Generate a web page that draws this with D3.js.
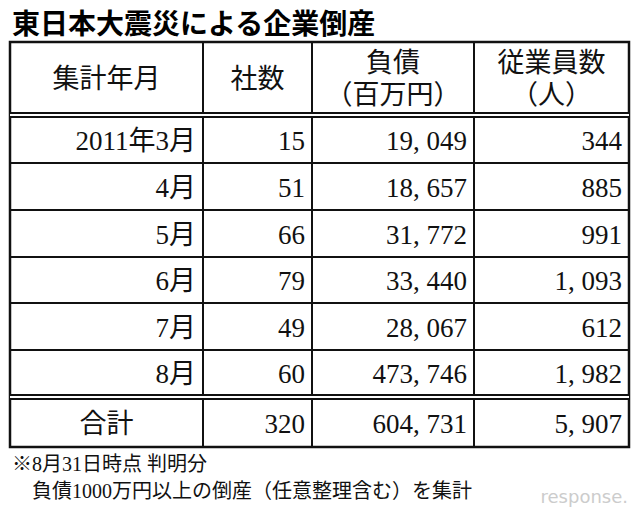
<!DOCTYPE html><html><head><meta charset="utf-8">
<script src="https://cdn.jsdelivr.net/npm/d3@7"></script>
<style>body{margin:0;background:#fff}</style></head><body>
<svg id="c" width="640" height="523"></svg>
<script>
const title="東日本大震災による企業倒産";
const headers=[["集計年月"],["社数"],["負債","（百万円）"],["従業員数","（人）"]];
const months=["2011年3月","4月","5月","6月","7月","8月"];
const companies=[15,51,66,79,49,60];
const debt=["19, 049","18, 657","31, 772","33, 440","28, 067","473, 746"];
const employees=["344","885","991","1, 093","612","1, 982"];
const total=["合計","320","604, 731","5, 907"];
const notes=["※8月31日時点 判明分","　負債1000万円以上の倒産（任意整理含む）を集計"];

const svg=d3.select("#c");
const F="'Liberation Serif','Noto Sans CJK JP',serif";
const colX=[10,203,312,474,629];
const rowY=[117,163,210,257,303,350,395];
svg.append("text").attr("x",12).attr("y",34).attr("font-family","'Noto Sans CJK JP'").attr("font-weight","bold").attr("font-size",28).text(title);
const g=svg.append("g").attr("font-family",F).attr("font-size",27).attr("fill","#111");
g.append("rect").attr("x",colX[0]).attr("y",42).attr("width",colX[4]-colX[0]).attr("height",405).attr("fill","none").attr("stroke","#111").attr("stroke-width",2.5);
colX.slice(1,4).forEach(cx=>g.append("line").attr("x1",cx).attr("x2",cx).attr("y1",42).attr("y2",447).attr("stroke","#111").attr("stroke-width",2));
[[113,117],[395,399]].forEach(([a,b])=>{
 g.append("rect").attr("x",colX[0]).attr("y",a).attr("width",colX[4]-colX[0]).attr("height",b-a).attr("fill","#fff");
 [a,b].forEach(yy=>g.append("line").attr("x1",colX[0]).attr("x2",colX[4]).attr("y1",yy).attr("y2",yy).attr("stroke","#111").attr("stroke-width",2));});
rowY.slice(1,6).forEach(yy=>g.append("line").attr("x1",colX[0]).attr("x2",colX[4]).attr("y1",yy).attr("y2",yy).attr("stroke","#111").attr("stroke-width",2));
headers.forEach((h,i)=>{const cx=(colX[i]+colX[i+1])/2;
 h.forEach((t,j)=>g.append("text").attr("x",cx).attr("y",h.length==1?88:[72,104][j]).attr("text-anchor","middle").attr("font-size",27).text(t));});
const rows=months.map((m,i)=>[m,companies[i],debt[i],employees[i]]);
rows.forEach((r,ri)=>{const cy=(rowY[ri]+rowY[ri+1])/2+10;
 r.forEach((v,ci)=>g.append("text").attr("x",colX[ci+1]-7).attr("y",cy).attr("text-anchor","end").text(v));});
total.forEach((v,ci)=>g.append("text").attr("x",ci==0?(colX[0]+colX[1])/2:colX[ci+1]-7).attr("y",433).attr("text-anchor",ci==0?"middle":"end").text(v));
notes.forEach((t,i)=>svg.append("text").attr("x",12).attr("y",[471,498][i]).attr("font-family",F).attr("font-size",20).attr("fill","#111").text(t));
svg.append("text").attr("x",628).attr("y",503).attr("text-anchor","end").attr("font-family","'DejaVu Sans'").attr("font-size",18).attr("fill","#ccc").text("response.");
</script></body></html>
